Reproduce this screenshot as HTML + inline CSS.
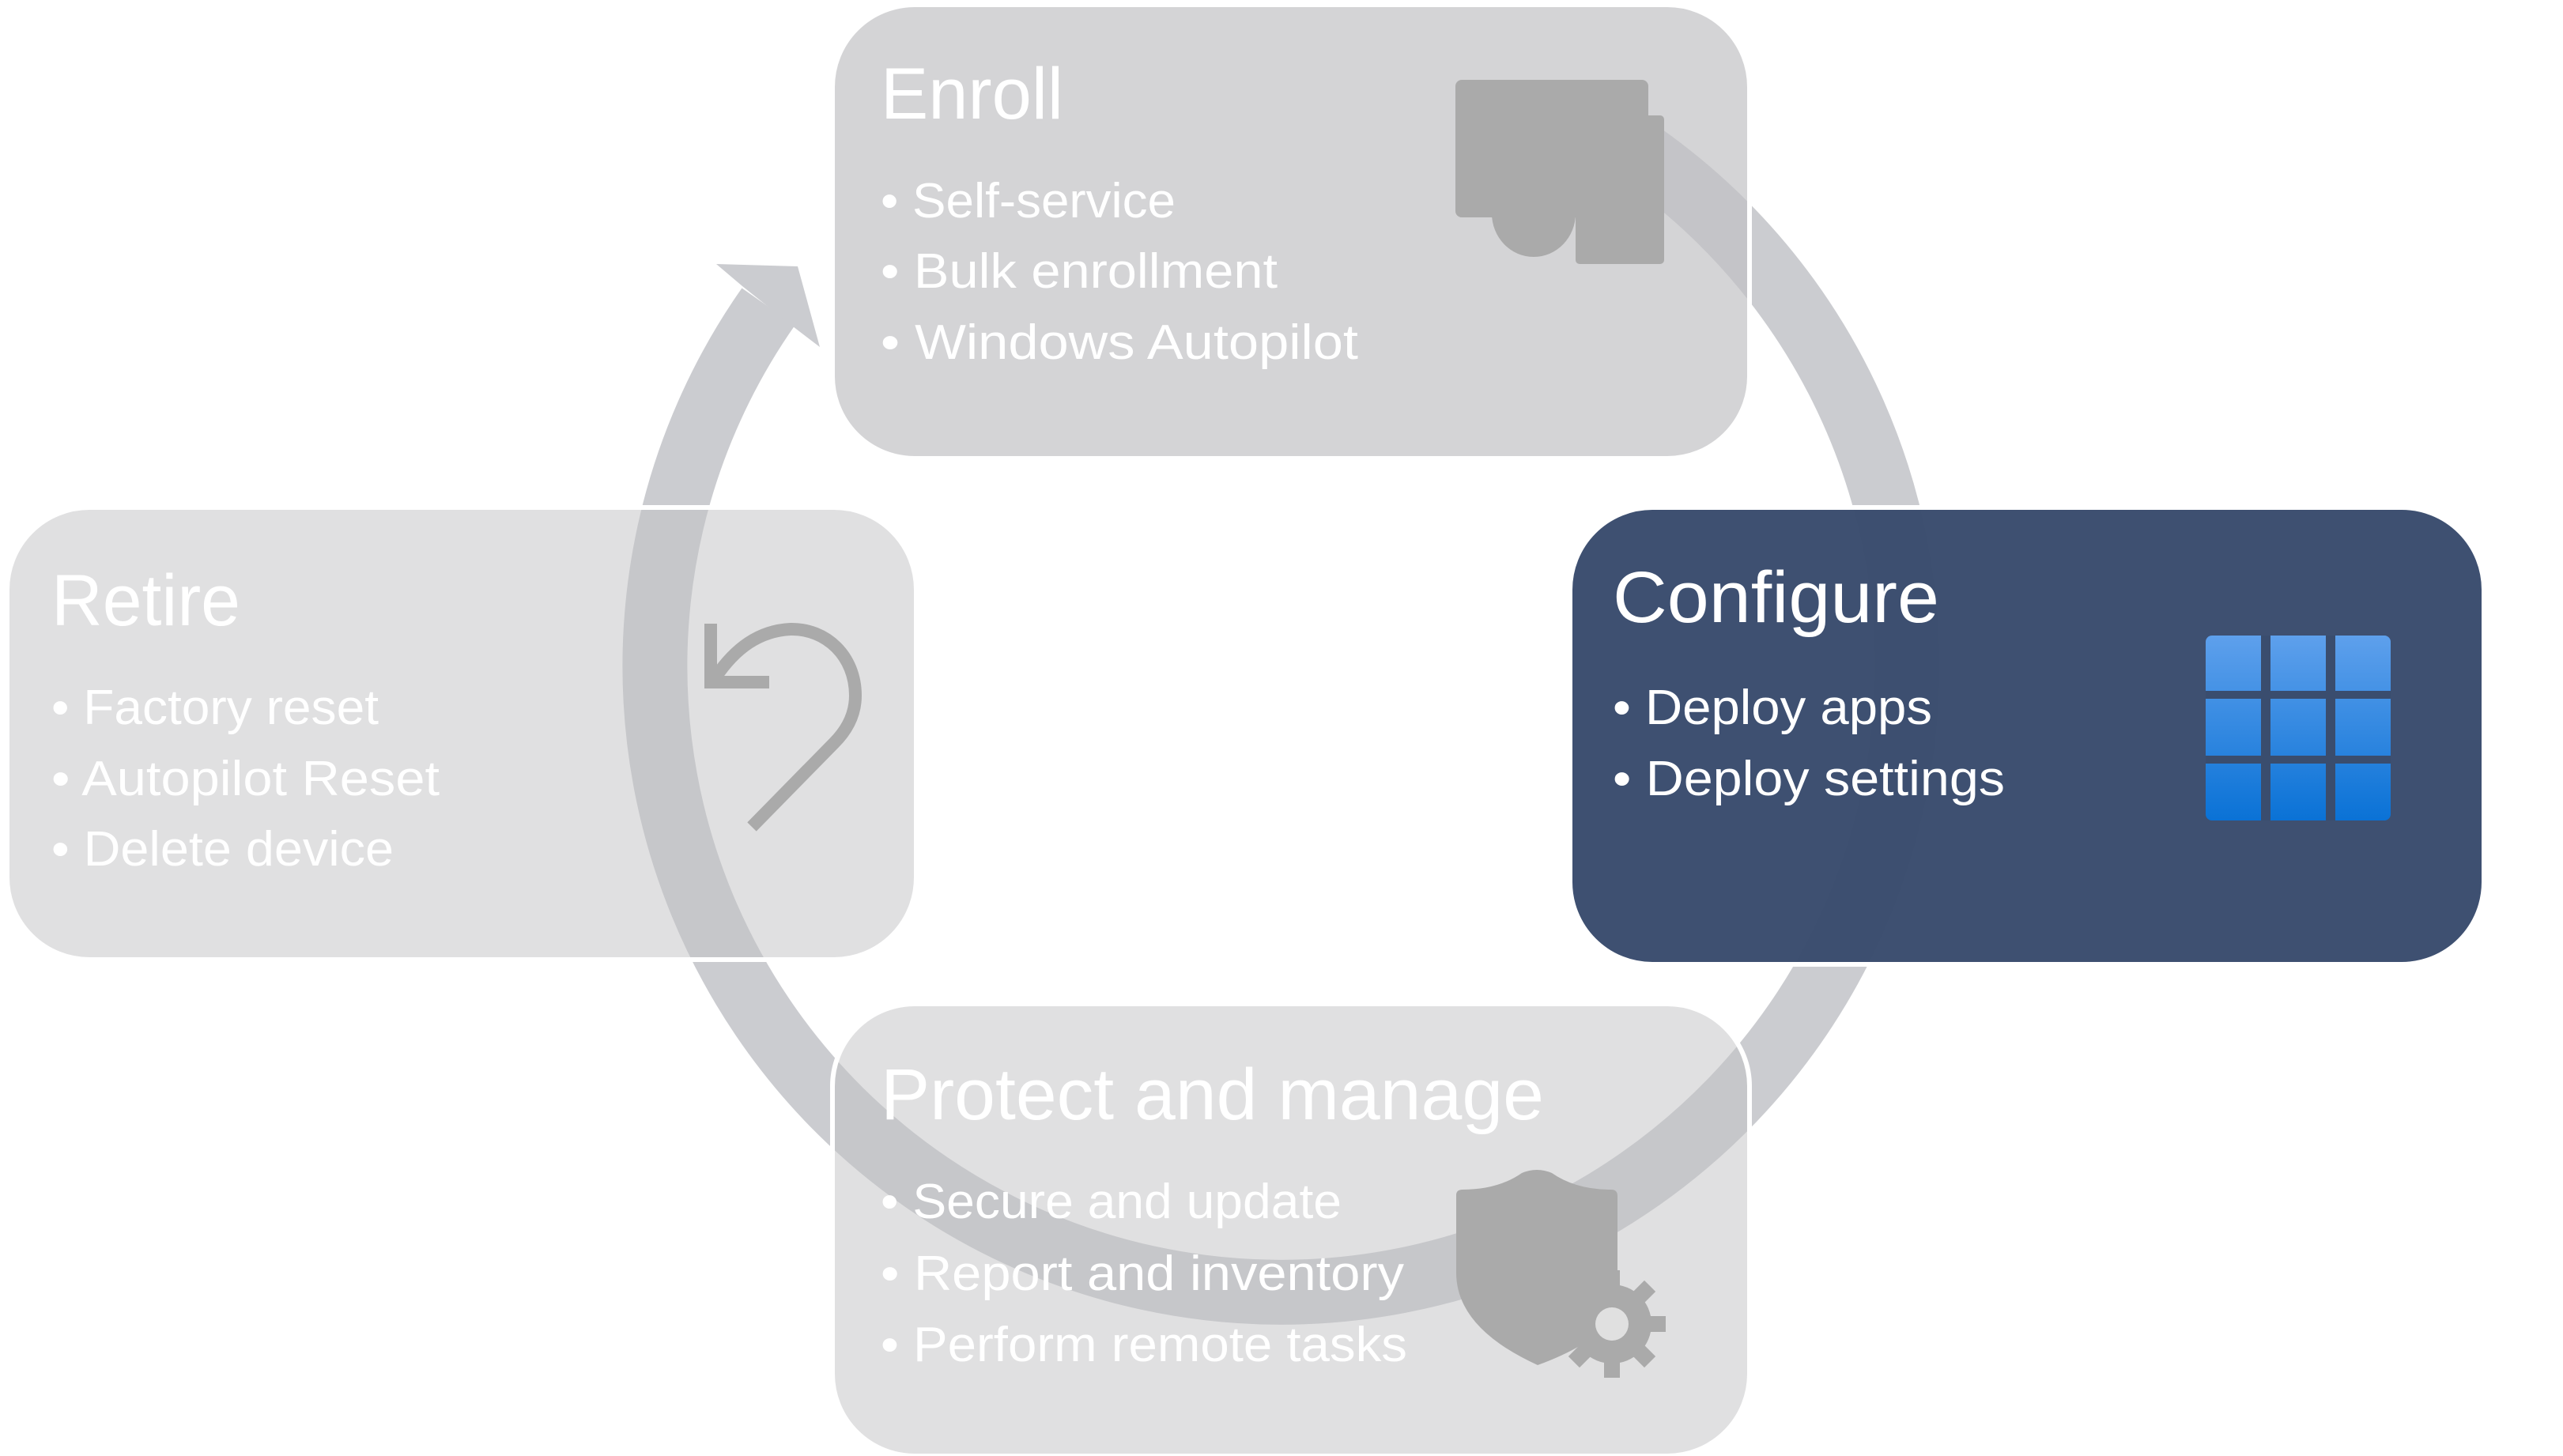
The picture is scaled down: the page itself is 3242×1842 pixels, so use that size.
<!DOCTYPE html>
<html><head><meta charset="utf-8"><style>
html,body{margin:0;padding:0;background:#fff;}
svg{display:block;}
text{font-family:"Liberation Sans",Arial,sans-serif;fill:#fff;}
</style></head><body>
<svg width="3242" height="1842" viewBox="0 0 3242 1842" xmlns="http://www.w3.org/2000/svg">
<defs>
<linearGradient id="bg" x1="0" y1="0" x2="0" y2="1">
<stop offset="0" stop-color="#5ea0ec"/><stop offset="1" stop-color="#0a72d6"/>
</linearGradient>
</defs>
<!-- ring -->
<path d="M 2043 173 A 792 792 0 1 1 972 388" fill="none" stroke="#cbccd0" stroke-width="82"/>
<polygon points="906,334 1009,337 1037,439 1003,413 939,362" fill="#cbccd0"/>

<!-- boxes -->
<rect x="1053" y="6" width="1160" height="574" rx="104" fill="rgb(193,193,195)" fill-opacity="0.69" stroke="#fff" stroke-width="6"/>
<rect x="9" y="642" width="1150" height="572" rx="104" fill="rgb(193,193,195)" fill-opacity="0.5" stroke="#fff" stroke-width="6"/>
<rect x="1986" y="642" width="1156" height="578" rx="104" fill="#3a4d6e" fill-opacity="0.98" stroke="#fff" stroke-width="6"/>
<rect x="1053" y="1270" width="1160" height="572" rx="104" fill="rgb(193,193,195)" fill-opacity="0.5" stroke="#fff" stroke-width="6"/>

<!-- enroll icon -->
<rect x="1841" y="101" width="244" height="174" rx="8" fill="#aaaaaa"/>
<rect x="1993" y="146" width="112" height="188" rx="5" fill="#aaaaaa"/>
<path d="M1887 270 A 53 55 0 0 0 1993 270 Z" fill="#aaaaaa"/>

<!-- undo icon -->
<g fill="none" stroke="#aaaaaa" stroke-width="16">
<path d="M899 789 L899 863 L973 863"/>
<path d="M905 857 C 930 820 960 798 1000 796 C 1045 795 1082 830 1082 880 C 1082 905 1070 925 1055 940 L 951 1046"/>
</g>

<!-- grid icon -->
<g>
<rect x="2790" y="804" width="234" height="234" rx="8" fill="url(#bg)"/>
<rect x="2860" y="804" width="12" height="234" fill="#3a4d6e"/>
<rect x="2942" y="804" width="12" height="234" fill="#3a4d6e"/>
<rect x="2790" y="874" width="234" height="10" fill="#3a4d6e"/>
<rect x="2790" y="956" width="234" height="10" fill="#3a4d6e"/>
</g>

<!-- shield + gear -->
<path d="M1842 1512 Q1842 1505 1850 1505 Q1895 1505 1925 1484 Q1944 1476 1963 1484 Q1993 1505 2038 1505 Q2046 1505 2046 1513 L2046 1640 Q2046 1690 1945 1727 Q1842 1680 1842 1610 Z" fill="#aaaaaa"/>
<g transform="translate(2039,1675)">
<g fill="#aaaaaa">
<rect x="-10" y="-68" width="20" height="136"/>
<rect x="-10" y="-68" width="20" height="136" transform="rotate(45)"/>
<rect x="-10" y="-68" width="20" height="136" transform="rotate(90)"/>
<rect x="-10" y="-68" width="20" height="136" transform="rotate(135)"/>
</g>
<circle r="50" fill="#aaaaaa"/>
<circle r="21" fill="#e0e0e0"/>
</g>

<!-- text -->
<text x="1114" y="150" font-size="92" textLength="231" lengthAdjust="spacingAndGlyphs">Enroll</text>
<text x="1114" y="275" font-size="62" textLength="373" lengthAdjust="spacingAndGlyphs">• Self-service</text>
<text x="1114" y="364" font-size="62" textLength="502" lengthAdjust="spacingAndGlyphs">• Bulk enrollment</text>
<text x="1114" y="454" font-size="62" textLength="604" lengthAdjust="spacingAndGlyphs">• Windows Autopilot</text>

<text x="65" y="791" font-size="92" textLength="239" lengthAdjust="spacingAndGlyphs">Retire</text>
<text x="65" y="916" font-size="62" textLength="414" lengthAdjust="spacingAndGlyphs">• Factory reset</text>
<text x="65" y="1006" font-size="62" textLength="491" lengthAdjust="spacingAndGlyphs">• Autopilot Reset</text>
<text x="65" y="1095" font-size="62" textLength="433" lengthAdjust="spacingAndGlyphs">• Delete device</text>

<text x="2040" y="787" font-size="92" textLength="413" lengthAdjust="spacingAndGlyphs">Configure</text>
<text x="2040" y="916" font-size="62" textLength="404" lengthAdjust="spacingAndGlyphs">• Deploy apps</text>
<text x="2040" y="1006" font-size="62" textLength="496" lengthAdjust="spacingAndGlyphs">• Deploy settings</text>

<text x="1114" y="1416" font-size="92" textLength="839" lengthAdjust="spacingAndGlyphs">Protect and manage</text>
<text x="1114" y="1541" font-size="62" textLength="583" lengthAdjust="spacingAndGlyphs">• Secure and update</text>
<text x="1114" y="1632" font-size="62" textLength="662" lengthAdjust="spacingAndGlyphs">• Report and inventory</text>
<text x="1114" y="1722" font-size="62" textLength="666" lengthAdjust="spacingAndGlyphs">• Perform remote tasks</text>
</svg>
</body></html>
